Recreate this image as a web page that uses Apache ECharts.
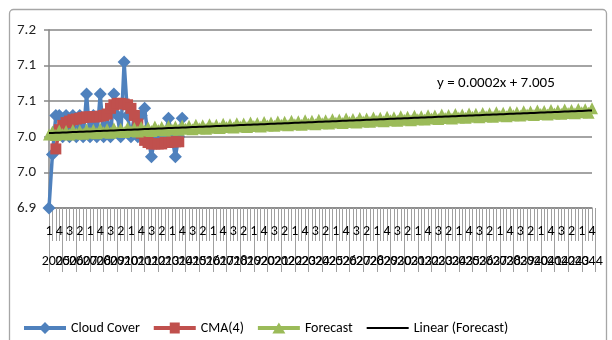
<!DOCTYPE html>
<html>
<head>
<meta charset="utf-8">
<script src="https://cdn.jsdelivr.net/npm/echarts@6/dist/echarts.min.js"></script>
<style>
  html, body { margin: 0; padding: 0; background: #fff; }
  #chart { width: 612px; height: 340px; }
</style>
</head>
<body>
<div id="chart"></div>
<script>
// Category levels: years (outer) and quarters (inner)
const years = ['2005','2006','2007','2008','2009','2010','2011','2012','2013','2014',
               '2015','2016','2017','2018','2019','2020','2021','2022','2023','2024',
               '2025','2026','2027','2028','2029','2030','2031','2032','2033','2034',
               '2035','2036','2037','2038','2039','2040','2041','2042','2043','2044'];
const quarters = ['1', '2', '3', '4'];

// Observed cloud cover, quarterly
const cloudCover = [
  6.900, 6.975, 7.030, 7.030, 7.000, 7.030, 7.000, 7.030, 7.000, 7.030,
  7.000, 7.060, 7.000, 7.030, 7.000, 7.060, 7.000, 7.030, 7.000, 7.060,
  7.030, 7.000, 7.105, 7.030, 7.000, 7.030, 7.000, 7.030, 7.040, 7.000,
  6.972, 7.000, 7.000, 7.000, 7.000, 7.026, 7.000, 6.972, 7.000, 7.026
];

// Centred moving average over four quarters
const cma4 = [
  null, null, 6.983, 7.010, 7.016, 7.020, 7.022, 7.024, 7.025, 7.026,
  7.027, 7.028, 7.028, 7.028, 7.028, 7.029, 7.030, 7.032, 7.040, 7.045,
  7.047, 7.047, 7.046, 7.045, 7.040, 7.030, 7.018, 7.005, 6.995, 6.992,
  6.990, 6.990, 6.990, 6.990, 6.992, 6.992, 6.993, 6.993, 6.993
];

// Seasonal forecast, quarterly through 2044
const forecast = [
  7.0032, 7.0074, 7.0026, 7.0088,  7.0040, 7.0082, 7.0034, 7.0096,
  7.0048, 7.0090, 7.0042, 7.0104,  7.0056, 7.0098, 7.0050, 7.0112,
  7.0064, 7.0106, 7.0058, 7.0120,  7.0072, 7.0114, 7.0066, 7.0128,
  7.0080, 7.0122, 7.0074, 7.0136,  7.0088, 7.0130, 7.0082, 7.0144,
  7.0096, 7.0138, 7.0090, 7.0152,  7.0104, 7.0146, 7.0098, 7.0160,
  7.0112, 7.0154, 7.0106, 7.0168,  7.0120, 7.0162, 7.0114, 7.0176,
  7.0128, 7.0170, 7.0122, 7.0184,  7.0136, 7.0178, 7.0130, 7.0192,
  7.0144, 7.0186, 7.0138, 7.0200,  7.0152, 7.0194, 7.0146, 7.0208,
  7.0160, 7.0202, 7.0154, 7.0216,  7.0168, 7.0210, 7.0162, 7.0224,
  7.0176, 7.0218, 7.0170, 7.0232,  7.0184, 7.0226, 7.0178, 7.0240,
  7.0192, 7.0234, 7.0186, 7.0248,  7.0200, 7.0242, 7.0194, 7.0256,
  7.0208, 7.0250, 7.0202, 7.0264,  7.0216, 7.0258, 7.0210, 7.0272,
  7.0224, 7.0266, 7.0218, 7.0280,  7.0232, 7.0274, 7.0226, 7.0288,
  7.0240, 7.0282, 7.0234, 7.0296,  7.0248, 7.0290, 7.0242, 7.0304,
  7.0256, 7.0298, 7.0250, 7.0312,  7.0264, 7.0306, 7.0258, 7.0320,
  7.0272, 7.0314, 7.0266, 7.0328,  7.0280, 7.0322, 7.0274, 7.0336,
  7.0288, 7.0330, 7.0282, 7.0344,  7.0296, 7.0338, 7.0290, 7.0352,
  7.0304, 7.0346, 7.0298, 7.0360,  7.0312, 7.0354, 7.0306, 7.0368,
  7.0320, 7.0362, 7.0314, 7.0376,  7.0328, 7.0370, 7.0322, 7.0384,
  7.0336, 7.0378, 7.0330, 7.0392,  7.0344, 7.0386, 7.0338, 7.0400
];

// Linear trendline fitted to the forecast (x = period number, from 1)
const trendSlope = 0.0002;
const trendIntercept = 7.005;

// Value axis
const yMin = 6.90, yMax = 7.15, yStep = 0.05;
const yTickLabels = ['6.9', '7.0', '7.0', '7.1', '7.1', '7.2'];

const quarterLabels = years.flatMap(() => quarters);
const n = quarterLabels.length;
// one trend value per period, from the fitted equation
const trendData = quarterLabels.map((_, i) => trendIntercept + trendSlope * (i + 1));
const equationText = 'y = ' + trendSlope + 'x + ' + trendIntercept;

const FONT = 'Carlito, Calibri, Lato, sans-serif';
const W = 612;
const plotLeft = 49, plotRight = 20, plotTop = 30, plotBottom = 132;
const step = (W - plotLeft - plotRight) / (n - 1);

// Legend keys (42 x 12 box): thick line with the series marker on top
const BAR = 'M0,4 L42,4 L42,8 L0,8 Z';
const legendIcons = {
  diamond: 'path://' + BAR + ' M21,0 L27,6 L21,12 L15,6 Z',
  square:  'path://' + BAR + ' M16,0.5 L26,0.5 L26,11.5 L16,11.5 Z M0,0 L42,0 Z M0,12 L42,12 Z',
  triangle:'path://' + BAR + ' M21,0.5 L27.5,11.5 L14.5,11.5 Z M0,0 L42,0 Z M0,12 L42,12 Z',
  line:    'path://M0,0 L42,0 Z M0,12 L42,12 Z M0,5 L42,5 L42,7 L0,7 Z'
};

const chart = echarts.init(document.getElementById('chart'), null, { renderer: 'canvas' });

chart.setOption({
  animation: false,
  backgroundColor: '#ffffff',
  textStyle: { fontFamily: FONT },
  grid: [
    { left: plotLeft, right: plotRight, top: plotTop, bottom: plotBottom },
    { left: plotLeft, right: plotRight - step, top: plotTop, bottom: plotBottom }
  ],
  legend: {
    left: 19, top: 316,
    itemWidth: 42, itemHeight: 12, itemGap: 14,
    itemStyle: { borderWidth: 0 },
    textStyle: { fontSize: 14, color: '#000', fontFamily: FONT },
    data: [
      { name: 'Cloud Cover', icon: legendIcons.diamond },
      { name: 'CMA(4)', icon: legendIcons.square },
      { name: 'Forecast', icon: legendIcons.triangle },
      { name: 'Linear (Forecast)', icon: legendIcons.line }
    ]
  },
  xAxis: [
    {
      type: 'category', gridIndex: 0, data: quarterLabels, boundaryGap: false,
      axisLine: { show: true, lineStyle: { color: '#868686', width: 1.5 } },
      axisTick: { show: true, interval: 0, length: 33, lineStyle: { color: '#a0a0a0', width: 1 } },
      axisLabel: { interval: 2, margin: 16, fontSize: 14, color: '#000', fontFamily: FONT },
      splitLine: { show: false }
    },
    {
      type: 'category', gridIndex: 1, data: years, boundaryGap: true,
      axisLine: { show: false },
      axisTick: { show: true, interval: 0, length: 64, lineStyle: { color: '#a0a0a0', width: 1 } },
      axisLabel: { interval: 0, margin: 46, fontSize: 14, color: '#000', fontFamily: FONT },
      splitLine: { show: false }
    }
  ],
  yAxis: [
    {
      type: 'value', gridIndex: 0, min: yMin, max: yMax, interval: yStep,
      axisLine: { show: true, lineStyle: { color: '#868686', width: 1.5 } },
      axisTick: { show: true, length: 5, lineStyle: { color: '#868686', width: 1.5 } },
      axisLabel: {
        margin: 13, fontSize: 15, color: '#222', fontFamily: FONT,
        formatter: (v) => yTickLabels[Math.round((v - yMin) / yStep)]
      },
      splitLine: { show: true, lineStyle: { color: '#868686', width: 1.5 } }
    },
    { type: 'value', gridIndex: 1, min: 0, max: 1, show: false }
  ],
  series: [
    {
      name: 'Cloud Cover', type: 'line', xAxisIndex: 0, yAxisIndex: 0, z: 2,
      data: cloudCover, symbol: 'diamond', symbolSize: 13, showAllSymbol: true,
      lineStyle: { color: '#4F81BD', width: 3.5 }, itemStyle: { color: '#4F81BD' }
    },
    {
      name: 'CMA(4)', type: 'line', xAxisIndex: 0, yAxisIndex: 0, z: 3,
      data: cma4, symbol: 'rect', symbolSize: 11, showAllSymbol: true,
      lineStyle: { color: '#C0504D', width: 3.5 }, itemStyle: { color: '#C0504D' }
    },
    {
      name: 'Forecast', type: 'line', xAxisIndex: 0, yAxisIndex: 0, z: 4,
      data: forecast, symbol: 'triangle', symbolSize: 12, showAllSymbol: true,
      lineStyle: { color: '#9BBB59', width: 4 }, itemStyle: { color: '#9BBB59' }
    },
    {
      name: 'Linear (Forecast)', type: 'line', xAxisIndex: 0, yAxisIndex: 0, z: 5,
      data: trendData, symbol: 'none', showSymbol: false,
      lineStyle: { color: '#000', width: 2 }, itemStyle: { color: '#000' }
    }
  ],
  graphic: [
    {
      type: 'rect', silent: true, z: -1,
      shape: { x: 9.5, y: 9.5, width: 597, height: 360, r: 4 },
      style: { fill: 'none', stroke: '#a6a6a6', lineWidth: 1.3 }
    },
    {
      type: 'text', left: 437, top: 76, z: 10,
      style: { text: equationText, fill: '#000', font: '15px ' + FONT }
    }
  ]
});
</script>
</body>
</html>
